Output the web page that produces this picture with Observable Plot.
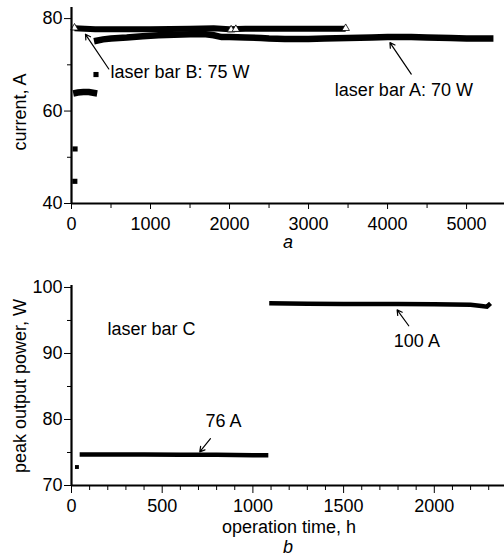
<!DOCTYPE html>
<html>
<head>
<meta charset="utf-8">
<script src="https://cdn.jsdelivr.net/npm/d3@7"></script>
<script src="https://cdn.jsdelivr.net/npm/@observablehq/plot@0.6"></script>
<style>
  html, body { margin: 0; padding: 0; background: #fff; }
  #wrap { position: relative; width: 504px; height: 557px; overflow: hidden; font-family: "Liberation Sans", Arial, sans-serif; }
  #wrap > svg, #wrap > figure { position: absolute; left: 0; margin: 0; }
  #panelTop { top: 0; }
  #panelBot { top: 250px; }
  #overlay { position: absolute; left: 0; top: 0; pointer-events: none; }
</style>
</head>
<body>
<div id="wrap"></div>
<script>
// ---------- Panel a: current vs time ----------
// laser bar A, isolated start-up points
const earlyTimeA = [42, 45, 310];
const earlyCurrentA = [44.8, 51.8, 67.9];
// laser bar A, short 64 A stretch
const stepTimeA = [22, 80, 150, 220, 290, 325];
const stepCurrentA = [63.8, 64.0, 64.1, 64.1, 63.9, 63.8];
// laser bar A, main run
const timeA = [285, 400, 500, 700, 900, 1100, 1300, 1500, 1700, 1800, 1900, 2000, 2200, 2400, 2500, 2700, 3000, 3200, 3500, 3800, 4000, 4300, 4500, 4800, 5000, 5340];
const currentA = [75.1, 75.5, 75.7, 75.9, 76.2, 76.4, 76.5, 76.6, 76.6, 76.4, 76.0, 76.0, 75.9, 75.8, 75.7, 75.6, 75.6, 75.7, 75.8, 75.9, 76.0, 76.0, 75.9, 75.8, 75.7, 75.7];
// laser bar B
const timeB = [38, 300, 1000, 1500, 1800, 2000, 2200, 2600, 3000, 3470];
const currentB = [77.9, 77.7, 77.7, 77.8, 77.9, 77.7, 77.8, 77.8, 77.8, 77.8];
const markerTimeB = [38, 2020, 2080, 3470];
const markerCurrentB = [78.0, 77.6, 77.7, 77.9];
const ticksA = [0, 1000, 2000, 3000, 4000, 5000];
const minorTicksA = [500, 1500, 2500, 3500, 4500];
const yTicksA = [40, 60, 80];
const yMinorA = [50, 70];

// ---------- Panel b: peak output power ----------
const earlyTimeC = [30];
const earlyPowerC = [72.8];
const timeC1 = [45, 200, 400, 600, 800, 1000, 1085];
const powerC1 = [74.7, 74.7, 74.7, 74.65, 74.65, 74.6, 74.6];
const timeC2 = [1090, 1300, 1500, 1800, 2000, 2200, 2260, 2290, 2310];
const powerC2 = [97.6, 97.55, 97.5, 97.5, 97.45, 97.4, 97.2, 97.1, 97.6];
const ticksB = [0, 500, 1000, 1500, 2000];
const minorTicksB = [100, 200, 300, 400, 600, 700, 800, 900, 1100, 1200, 1300, 1400, 1600, 1700, 1800, 1900, 2100, 2200, 2300];
const yTicksB = [70, 80, 90, 100];
const yMinorB = [75, 85, 95];

const FONT = "'Liberation Sans', Arial, sans-serif";
const plotStyle = {fontSize: "18px", fontFamily: FONT, background: "transparent", color: "#000", overflow: "visible"};

const zip = (xs, ys, extra = {}) => xs.map((x, i) => ({x, y: ys[i], ...extra}));

const aLine = [...zip(stepTimeA, stepCurrentA, {s: "step"}), ...zip(timeA, currentA, {s: "main"})];
const bLine = zip(timeB, currentB);
const band = {stroke: "black", strokeLinecap: "butt", strokeLinejoin: "miter", strokeMiterlimit: 2};

const panelA = Plot.plot({
  width: 504, height: 250,
  marginLeft: 71, marginRight: 0, marginTop: 7, marginBottom: 47,
  style: plotStyle,
  x: {domain: [0, 5480], label: null},
  y: {domain: [40, 82.4], label: null},
  marks: [
    Plot.axisX({ticks: ticksA, tickSize: 6, tickPadding: 8, label: null, tickFormat: d => String(d)}),
    Plot.axisX({ticks: minorTicksA, tickSize: 5, tickFormat: () => "", label: null}),
    Plot.axisY({ticks: yTicksA, tickSize: 7, tickPadding: 2, label: null}),
    Plot.axisY({ticks: yMinorA, tickSize: 4, tickFormat: () => "", label: null}),
    Plot.line(bLine, {x: "x", y: "y", ...band, strokeWidth: 6}),
    Plot.dot(zip(markerTimeB, markerCurrentB), {x: "x", y: "y", symbol: "triangle", r: 2.8, fill: "white", stroke: "black", strokeWidth: 0.8}),
    Plot.line(aLine, {x: "x", y: "y", z: "s", ...band, strokeWidth: 6.5}),
    Plot.dot(zip(earlyTimeA, earlyCurrentA), {x: "x", y: "y", symbol: "square", r: 2.9, fill: "black"}),
    Plot.arrow([{x1: 472, y1: 69.1, x2: 177, y2: 76.6}], {x1: "x1", y1: "y1", x2: "x2", y2: "y2", stroke: "black", strokeWidth: 1.2, headLength: 7}),
    Plot.arrow([{x1: 4300, y1: 68.0, x2: 4030, y2: 74.8}], {x1: "x1", y1: "y1", x2: "x2", y2: "y2", stroke: "black", strokeWidth: 1.2, headLength: 7}),
    Plot.text([{x: 494, y: 68.4, t: "laser bar B: 75 W"}], {x: "x", y: "y", text: "t", textAnchor: "start", fill: "black"}),
    Plot.text([{x: 3333, y: 64.4, t: "laser bar A: 70 W"}], {x: "x", y: "y", text: "t", textAnchor: "start", fill: "black"}),
    Plot.ruleX([0], {stroke: "black", strokeWidth: 2.2}),
    Plot.ruleY([40], {stroke: "black", strokeWidth: 2.2})
  ]
});
panelA.id = "panelTop";

const panelB = Plot.plot({
  width: 504, height: 307,
  marginLeft: 71, marginRight: 0, marginTop: 35, marginBottom: 72,
  style: plotStyle,
  x: {domain: [0, 2387], label: null},
  y: {domain: [70, 100.3], label: null},
  marks: [
    Plot.axisX({ticks: ticksB, tickSize: 8, tickPadding: 6, label: null, tickFormat: d => String(d)}),
    Plot.axisX({ticks: minorTicksB, tickSize: 5, tickFormat: () => "", label: null}),
    Plot.axisY({ticks: yTicksB, tickSize: 7, tickPadding: 2, label: null}),
    Plot.axisY({ticks: yMinorB, tickSize: 4, tickFormat: () => "", label: null}),
    Plot.line(zip(timeC1, powerC1), {x: "x", y: "y", ...band, strokeWidth: 4.5}),
    Plot.line(zip(timeC2, powerC2), {x: "x", y: "y", ...band, strokeWidth: 4.5}),
    Plot.dot(zip(earlyTimeC, earlyPowerC), {x: "x", y: "y", symbol: "square", r: 2.2, fill: "black"}),
    Plot.arrow([{x1: 766, y1: 77.1, x2: 707, y2: 75.1}], {x1: "x1", y1: "y1", x2: "x2", y2: "y2", stroke: "black", strokeWidth: 1.2, headLength: 7}),
    Plot.arrow([{x1: 1859, y1: 94.2, x2: 1795, y2: 96.6}], {x1: "x1", y1: "y1", x2: "x2", y2: "y2", stroke: "black", strokeWidth: 1.2, headLength: 7}),
    Plot.text([{x: 198, y: 93.7, t: "laser bar C"}], {x: "x", y: "y", text: "t", textAnchor: "start", fill: "black"}),
    Plot.text([{x: 739, y: 79.7, t: "76 A"}], {x: "x", y: "y", text: "t", textAnchor: "start", fill: "black"}),
    Plot.text([{x: 1777, y: 91.8, t: "100 A"}], {x: "x", y: "y", text: "t", textAnchor: "start", fill: "black"}),
    Plot.ruleX([0], {stroke: "black", strokeWidth: 2.2}),
    Plot.ruleY([70], {stroke: "black", strokeWidth: 2.2})
  ]
});
panelB.id = "panelBot";

const wrap = document.getElementById("wrap");
wrap.appendChild(panelA);
wrap.appendChild(panelB);

// axis titles and panel letters
const ns = "http://www.w3.org/2000/svg";
const ov = document.createElementNS(ns, "svg");
ov.setAttribute("id", "overlay");
ov.setAttribute("width", 504);
ov.setAttribute("height", 557);
ov.setAttribute("font-family", FONT);
ov.setAttribute("font-size", 18);
const labels = [
  {t: "current, A", x: 26, y: 112, rot: true},
  {t: "peak output power, W", x: 26, y: 386, rot: true},
  {t: "a", x: 288, y: 248, italic: true},
  {t: "operation time, h", x: 289, y: 532.5},
  {t: "b", x: 288, y: 553, italic: true}
];
for (const l of labels) {
  const el = document.createElementNS(ns, "text");
  el.textContent = l.t;
  el.setAttribute("text-anchor", "middle");
  if (l.rot) {
    el.setAttribute("transform", `translate(${l.x},${l.y}) rotate(-90)`);
  } else {
    el.setAttribute("x", l.x);
    el.setAttribute("y", l.y);
  }
  if (l.italic) el.setAttribute("font-style", "italic");
  ov.appendChild(el);
}
wrap.appendChild(ov);
</script>
</body>
</html>
